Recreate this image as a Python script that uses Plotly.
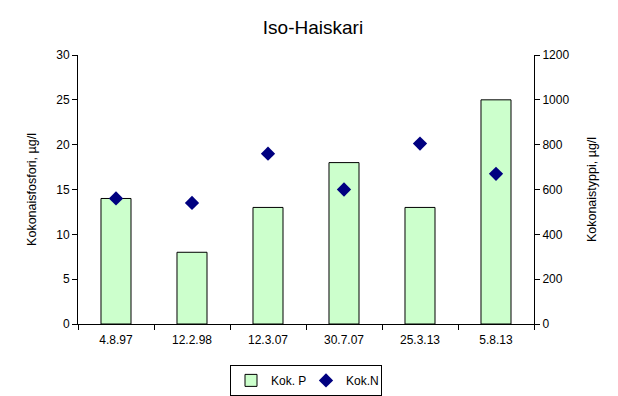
import plotly.graph_objects as go

categories = ["4.8.97", "12.2.98", "12.3.07", "30.7.07", "25.3.13", "5.8.13"]
kok_p = [14, 8, 13, 18, 13, 25]
kok_n = [560, 540, 760, 600, 805, 670]
left_ticks = [0, 5, 10, 15, 20, 25, 30]
right_ticks = [0, 200, 400, 600, 800, 1000, 1200]

font = "Liberation Sans, Arial, sans-serif"

fig = go.Figure()
fig.add_trace(go.Bar(
    x=categories, y=kok_p, name="Kok. P",
    marker=dict(color="#CCFFCC", line=dict(color="black", width=1)),
    width=0.395, yaxis="y",
))
fig.add_trace(go.Scatter(
    x=categories, y=kok_n, name="Kok.N", mode="markers",
    marker=dict(symbol="diamond", size=11, color="#000080"),
    yaxis="y2",
))

# page body has an 8px default margin, so the figure is 8px smaller
fig.update_layout(
    width=610, height=388,
    margin=dict(l=70, r=84, t=47, b=72, autoexpand=False),
    paper_bgcolor="white", plot_bgcolor="white",
    font=dict(family=font, size=12, color="black"),
    title=dict(text="Iso-Haiskari", x=0.5, xanchor="center", y=0.951, yanchor="middle",
               font=dict(size=19, family=font, color="black")),
    showlegend=True,
    legend=dict(orientation="h", x=0.5, xanchor="center", y=-0.152, yanchor="top",
                bordercolor="black", borderwidth=1, bgcolor="white",
                font=dict(size=12, family=font), itemwidth=30,
                entrywidth=30, entrywidthmode="pixels",
                tracegroupgap=0),
    xaxis=dict(showline=True, linecolor="black", linewidth=1, ticks="outside",
               tickson="boundaries", ticklen=5, tickcolor="black",
               showgrid=False, mirror=False, tickfont=dict(size=12), automargin=False,
               ticklabelstandoff=5),
    yaxis=dict(range=[0, 30], tickvals=left_ticks, showline=True, linecolor="black",
               ticks="outside", ticklen=5, tickcolor="black", showgrid=False,
               zeroline=False, automargin=False,
               title=dict(text="Kokonaisfosfori, µg/l", standoff=16, font=dict(size=12.5))),
    yaxis2=dict(range=[0, 1200], tickvals=right_ticks, overlaying="y", side="right",
                showline=True, linecolor="black", ticks="outside", ticklen=5,
                tickcolor="black", showgrid=False, zeroline=False, automargin=False,
                title=dict(text="Kokonaistyppi, µg/l", standoff=18, font=dict(size=12.5))),
)

fig.write_html("out.html")
